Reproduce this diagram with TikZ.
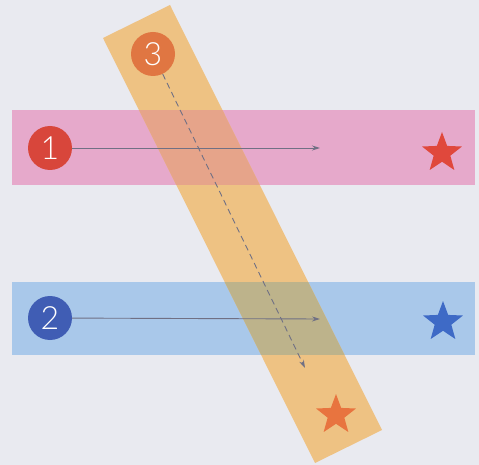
\documentclass[tikz,border=0pt]{standalone}
\usepackage{fontspec}
\setmainfont{Lato}
\newfontfamily\numfont{Lato Light}
\usetikzlibrary{shapes.geometric,arrows.meta}
\definecolor{bg}{HTML}{E9EAF0}
\definecolor{pinkband}{HTML}{E6A9CB}
\definecolor{blueband}{HTML}{A9C8EA}
\definecolor{orangeband}{HTML}{EEC283}
\definecolor{salmon}{HTML}{E6A48A}
\definecolor{olive}{HTML}{BDB38B}
\definecolor{cred}{HTML}{D8463B}
\definecolor{cblue}{HTML}{405DB4}
\definecolor{corange}{HTML}{E07642}
\definecolor{sred}{HTML}{E0483C}
\definecolor{sblue}{HTML}{3E6AC6}
\definecolor{sorange}{HTML}{E8743F}
\definecolor{arrowgray}{HTML}{707084}
\tikzset{
  numcircle/.style={circle, minimum size=44pt, inner sep=0pt, text=white,
    font=\numfont\fontsize{32}{32}\selectfont},
  starmark/.style={star, star points=5, star point ratio=2.4, minimum size=42pt, inner sep=0pt},
  conn/.style={draw=arrowgray, line width=0.9pt, -{Stealth[length=8pt,width=5pt]}},
}
\begin{document}
\begin{tikzpicture}[x=1pt,y=-1pt]
\fill[bg] (0,0) rectangle (479,465);
\useasboundingbox (0,0) rectangle (479,465);
% horizontal bands
\fill[pinkband] (12,110) rectangle (475,185);
\fill[blueband] (12,282) rectangle (475,355);
% slanted band
\fill[orangeband] (103,38) -- (170,5) -- (382,430) -- (315,463) -- cycle;
\begin{scope}
  \clip (103,38) -- (170,5) -- (382,430) -- (315,463) -- cycle;
  \fill[salmon] (12,110) rectangle (475,185);
  \fill[olive] (12,282) rectangle (475,355);
\end{scope}
% numbered circles
\node[numcircle, fill=cred] (c1) at (50,148) {1};
\node[numcircle, fill=cblue] (c2) at (50,318) {2};
\node[numcircle, fill=corange] (c3) at (153,54) {3};
% stars
\node[starmark, fill=sred] (s1) at (442,153) {};
\node[starmark, fill=sblue] (s2) at (443,322) {};
\node[starmark, fill=sorange] (s3) at (336,415) {};
% arrow end points
\coordinate (e1) at (320,148);
\coordinate (e2) at (320,319);
\coordinate (e3) at (305,368);
\draw[conn] (c1) -- (e1);
\draw[conn] (c2) -- (e2);
\draw[conn, dash pattern=on 6pt off 4pt] (c3) -- (e3);
\end{tikzpicture}
\end{document}
